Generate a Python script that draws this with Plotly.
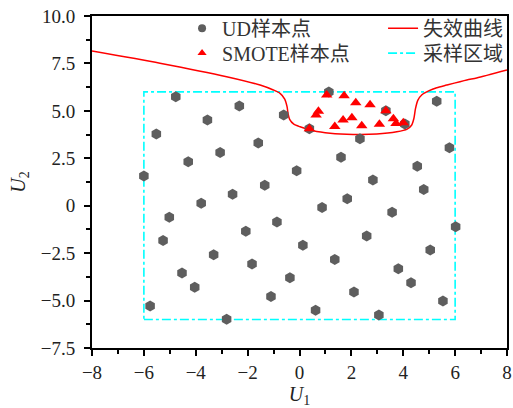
import plotly.graph_objects as go

# UD sample points (50-point uniform design)
ud_u1 = [-6.00, -5.76, -5.52, -5.26, -5.02, -4.77, -4.53, -4.29, -4.04, -3.79,
         -3.55, -3.31, -3.06, -2.81, -2.58, -2.32, -2.07, -1.83, -1.59, -1.34,
         -1.10, -0.87, -0.61, -0.37, -0.11, 0.13, 0.38, 0.62, 0.87, 1.13,
         1.36, 1.60, 1.84, 2.10, 2.33, 2.59, 2.83, 3.06, 3.33, 3.57,
         3.81, 4.06, 4.30, 4.54, 4.79, 5.04, 5.29, 5.53, 5.78, 6.02]
ud_u2 = [1.57, -5.28, 3.78, -1.84, -0.61, 5.75, -3.55, 2.32, -4.30, 0.13,
         4.52, -2.58, 2.81, -5.99, 0.60, 5.26, -1.35, -3.07, 3.31, 1.08,
         -4.78, -0.86, 4.78, -3.80, 1.84, -2.09, 4.06, -5.51, -0.10, 5.99,
         -2.83, 2.55, 0.37, -4.55, 3.53, -1.60, 1.35, -5.76, 5.01, -0.35,
         -3.32, 4.31, -4.06, 2.08, 0.86, -2.33, 5.50, -5.02, 3.06, -1.11]

# SMOTE sample points
smote_u1 = [1.05, 1.72, 2.17, 2.72, 3.33, 0.73, 0.64, 1.68, 2.02, 3.62,
            0.38, 1.36, 2.40, 3.08, 3.72, 4.00]
smote_u2 = [5.83, 5.80, 5.43, 5.32, 5.01, 4.98, 4.78, 4.52, 4.64, 4.59,
            4.06, 4.17, 4.22, 4.29, 4.34, 4.37]

# Failure curve
curve_u1 = [-8.0, -5.38, -2.81, -1.52, -1.01, -0.75, -0.57, -0.48, -0.44, -0.38,
            -0.22, 0.02, 0.53, 1.18, 2.07, 2.98, 3.75, 4.15, 4.32, 4.41,
            4.47, 4.56, 4.72, 4.98, 5.29, 5.67, 6.45, 6.83, 8.0]
curve_u2 = [8.15, 7.51, 6.80, 6.36, 6.10, 5.92, 5.62, 5.22, 4.85, 4.55,
            4.30, 4.16, 3.95, 3.82, 3.76, 3.78, 3.90, 4.04, 4.24, 4.60,
            5.10, 5.55, 5.85, 6.05, 6.22, 6.36, 6.63, 6.73, 7.15]

# Sampling region
region_u1 = [-6, 6, 6, -6, -6]
region_u2 = [-6, -6, 6, 6, -6]

x_ticks = [-8, -6, -4, -2, 0, 2, 4, 6, 8]
x_ticktext = ["\u22128", "\u22126", "\u22124", "\u22122", "0", "2", "4", "6", "8"]
y_ticks = [-7.5, -5.0, -2.5, 0, 2.5, 5.0, 7.5, 10.0]
y_ticktext = ["\u22127.5", "\u22125.0", "\u22122.5", "0", "2.5", "5.0", "7.5", "10.0"]

font_family = "'Liberation Serif', 'Times New Roman', 'Noto Sans CJK SC', serif"
GRAY = "#5E5E5E"
RED = "#FF0000"
CYAN = "#00FFFF"

fig = go.Figure()
fig.add_trace(go.Scatter(x=region_u1, y=region_u2, mode="lines", name="采样区域",
                         line=dict(color=CYAN, width=1.6, dash="dashdot"),
                         legend="legend2", legendrank=2))
fig.add_trace(go.Scatter(x=curve_u1, y=curve_u2, mode="lines", name="失效曲线",
                         line=dict(color=RED, width=1.5, shape="spline", smoothing=0.7),
                         legend="legend", legendrank=2))
fig.add_trace(go.Scatter(x=ud_u1, y=ud_u2, mode="markers", name="UD样本点",
                         marker=dict(symbol="hexagon", size=11, color=GRAY),
                         showlegend=False))
fig.add_trace(go.Scatter(x=smote_u1, y=smote_u2, mode="markers", name="SMOTE样本点",
                         marker=dict(symbol="triangle-up", size=10, color=RED),
                         showlegend=False))
# legend-only entries (small symbols as in the reference legend)
fig.add_trace(go.Scatter(x=[None], y=[None], mode="markers", name="UD样本点",
                         marker=dict(symbol="circle", size=8, color=GRAY),
                         legend="legend", legendrank=1))
fig.add_trace(go.Scatter(x=[None], y=[None], mode="markers", name="SMOTE样本点",
                         marker=dict(symbol="triangle-up", size=8, color=RED),
                         legend="legend2", legendrank=1))

axis_common = dict(showline=True, linecolor="black", linewidth=2, mirror=True,
                   ticks="outside", ticklen=6, tickwidth=2, tickcolor="black",
                   showgrid=False, zeroline=False, automargin=False,
                   tickfont=dict(family=font_family, size=19, color="#222"))

fig.update_xaxes(range=[-8, 8], tickvals=x_ticks, ticktext=x_ticktext,
                 minor=dict(ticks="outside", ticklen=4, tickwidth=2, dtick=1, tick0=0, tickcolor="black"),
                 title=dict(text="<i>U</i><sub>1</sub>", font=dict(family=font_family, size=20, color="#222"),
                            standoff=12),
                 ticklabelstandoff=0,
                 **axis_common)
fig.update_yaxes(range=[-7.5, 10], tickvals=y_ticks, ticktext=y_ticktext,
                 minor=dict(ticks="outside", ticklen=4, tickwidth=2, dtick=1.25, tick0=0, tickcolor="black"),
                 title=dict(text="<i>U</i><sub>2</sub>", font=dict(family=font_family, size=20, color="#222"),
                            standoff=10),
                 ticklabelstandoff=5,
                 **axis_common)

legend_common = dict(orientation="h", x=0.217, xanchor="left", yanchor="top",
                     entrywidth=156, bgcolor="rgba(0,0,0,0)",
                     font=dict(family=font_family, size=20, color="#333"),
                     itemwidth=30)

fig.update_layout(
    width=513, height=408,
    margin=dict(l=92, r=6, t=16, b=60, autoexpand=False),
    plot_bgcolor="white", paper_bgcolor="white",
    font=dict(family=font_family, size=16, color="#222"),
    legend=dict(y=1.022, **legend_common),
    legend2=dict(y=0.947, **legend_common),
)

fig.write_html("out.html")
